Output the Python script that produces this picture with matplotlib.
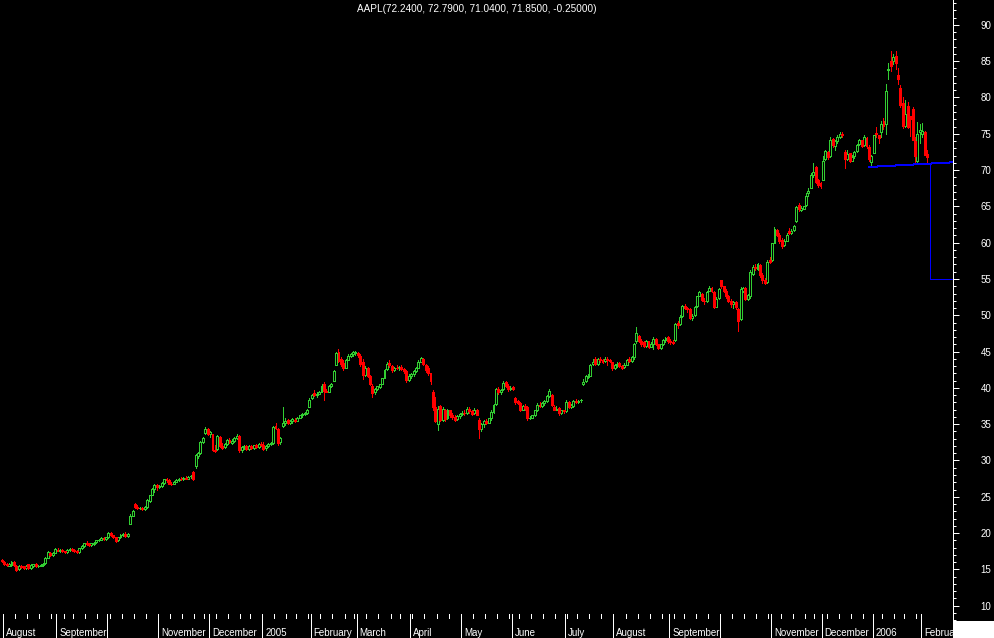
import numpy as np
import pandas as pd
import matplotlib
matplotlib.use("Agg")
import matplotlib.pyplot as plt
import matplotlib.transforms as mtransforms
from matplotlib.ticker import MultipleLocator
from matplotlib.patches import Rectangle

plt.rcParams['font.family'] = ['Liberation Sans', 'DejaVu Sans']

# ---------------------------------------------------------------------------
# daily AAPL candles, 2004-07-30 .. 2006-02-03 (one line per month)
# ---------------------------------------------------------------------------
opens = [
    16.3,
    16.0, 15.8, 15.5, 15.6, 16.0, 15.5, 15.0, 15.5, 15.4, 15.2, 15.7, 15.2, 15.4, 15.8, 15.4, 15.5, 15.6, 15.9, 16.6, 17.3, 17.0, 17.3,
    17.7, 17.6, 17.7, 17.5, 17.4, 17.7, 17.8, 17.7, 17.6, 17.4, 17.9, 18.2, 18.6, 18.5, 18.3, 18.5, 18.8, 19.0, 19.1, 19.3, 19.2,
    19.4, 20.0, 19.7, 19.4, 19.0, 19.4, 19.8, 19.9, 19.6, 21.3, 22.4, 24.0, 23.6, 23.4, 23.5, 23.3, 23.6, 24.4, 25.3, 26.1, 26.6,
    26.4, 26.5, 26.9, 27.4, 27.3, 26.8, 26.8, 27.1, 27.3, 27.5, 27.4, 27.6, 27.5, 27.8, 28.4, 29.2, 30.6, 31.0, 32.6, 33.8, 34.4,
    33.7, 33.6, 31.5, 31.6, 33.3, 32.0, 31.8, 32.3, 32.8, 32.4, 32.7, 33.1, 33.4, 31.4, 31.9, 32.0, 31.6, 32.0, 31.7, 32.1, 31.8, 32.3,
    32.2, 31.7, 32.0, 32.3, 32.4, 34.8, 34.4, 32.5, 34.8, 35.2, 35.6, 35.1, 35.4, 35.6, 35.5, 35.9, 36.2, 36.4, 36.5, 37.4,
    38.6, 39.3, 39.0, 39.2, 39.5, 40.6, 39.6, 39.5, 40.3, 41.0, 43.2, 45.0, 44.0, 43.4, 42.8, 43.9, 44.4, 44.6, 44.8,
    44.8, 44.4, 43.6, 41.8, 42.8, 41.7, 40.3, 39.4, 39.9, 40.1, 40.6, 41.4, 42.6, 43.4, 43.0, 42.4, 42.8, 42.7, 42.9, 42.6, 42.3, 41.1,
    41.6, 41.9, 42.3, 42.8, 43.6, 44.0, 43.2, 42.8, 42.0, 39.5, 37.4, 35.0, 37.5, 35.6, 37.0, 35.8, 36.9, 36.2, 36.0, 35.7, 36.1,
    36.4, 36.6, 36.5, 37.1, 36.8, 36.5, 37.0, 35.6, 34.3, 35.0, 35.4, 35.2, 35.8, 36.7, 37.8, 39.8, 39.4, 39.8, 40.8, 40.3, 39.8,
    40.1, 38.6, 38.2, 37.9, 37.0, 37.5, 37.3, 35.8, 35.9, 36.2, 36.9, 37.7, 37.5, 37.9, 38.2, 38.9, 39.0, 37.4, 37.0, 37.2, 36.6, 36.9,
    36.8, 38.1, 37.4, 37.5, 38.2, 38.1, 38.3, 40.6, 40.9, 41.5, 41.7, 43.3, 44.0, 43.3, 44.0, 43.8, 43.7, 44.0, 43.8, 43.5,
    42.8, 43.1, 43.4, 43.0, 42.9, 43.2, 44.0, 43.7, 44.2, 46.4, 47.2, 46.5, 46.3, 45.8, 46.4, 45.7, 46.1, 46.8, 46.0, 45.5, 46.0, 46.6, 47.0,
    46.5, 46.3, 46.6, 48.9, 48.8, 49.9, 51.3, 51.0, 50.8, 49.6, 50.0, 51.3, 52.7, 53.0, 52.0, 51.9, 53.4, 53.8, 53.2, 51.2, 52.4,
    54.8, 54.0, 53.4, 52.6, 52.0, 51.5, 51.8, 50.8, 49.5, 53.4, 53.8, 52.3, 52.6, 55.7, 56.7, 56.4, 56.9, 55.6, 54.9, 54.6, 57.6,
    57.6, 60.0, 61.8, 61.1, 60.4, 59.7, 60.3, 61.6, 61.4, 61.8, 63.0, 65.2, 64.5, 64.7, 65.2, 66.8, 67.6, 69.3, 70.4, 68.6, 68.2,
    68.7, 71.5, 72.5, 71.9, 74.3, 73.3, 74.0, 74.6, 75.0, 72.5, 71.5, 72.3, 71.3, 71.9, 72.6, 73.6, 74.1, 73.4, 74.4, 73.2, 71.1,
    72.4, 75.1, 74.8, 75.3, 76.7, 76.3, 83.8, 85.0, 85.0, 85.7, 83.1, 81.3, 79.3, 76.1, 78.8, 77.4, 78.4, 74.0, 71.2, 75.3,
    75.0, 75.3, 72.24,
]
highs = [
    16.4,
    16.1, 15.9, 15.9, 16.1, 16.1, 15.6, 15.6, 15.6, 15.5, 15.6, 15.8, 15.7, 15.8, 15.9, 15.6, 15.7, 15.9, 16.7, 17.5, 17.4, 17.4, 17.9,
    17.9, 17.8, 17.8, 17.6, 17.8, 17.9, 17.9, 17.8, 17.7, 18.0, 18.3, 18.7, 18.9, 18.7, 18.7, 18.8, 19.1, 19.2, 19.4, 19.4, 19.5,
    20.1, 20.2, 19.8, 19.5, 19.5, 19.9, 20.0, 20.1, 20.0, 22.6, 23.2, 24.1, 23.8, 23.6, 23.6, 23.7, 24.7, 25.3, 26.2, 26.7, 26.7,
    26.6, 27.0, 27.5, 27.6, 27.4, 27.0, 27.2, 27.4, 27.6, 27.7, 27.7, 27.8, 27.8, 28.0, 28.6, 30.9, 31.2, 32.7, 33.2, 34.6, 34.5,
    34.0, 33.7, 32.2, 33.5, 33.4, 32.4, 32.4, 32.9, 33.1, 32.9, 33.2, 33.6, 33.5, 32.0, 32.2, 32.2, 32.1, 32.1, 32.2, 32.3, 32.4, 32.5,
    32.6, 32.1, 32.4, 32.6, 34.8, 35.1, 34.5, 33.2, 37.3, 35.8, 35.7, 35.6, 35.8, 35.9, 36.0, 36.3, 36.5, 36.7, 37.1, 38.6,
    39.2, 39.7, 39.4, 39.6, 40.5, 40.8, 39.9, 40.4, 40.7, 42.4, 45.0, 45.3, 44.3, 43.9, 44.0, 44.6, 44.8, 45.1, 45.1,
    45.0, 44.6, 44.0, 43.0, 42.9, 41.8, 40.5, 40.0, 40.3, 40.6, 41.4, 42.6, 43.5, 43.8, 43.2, 42.9, 43.2, 43.0, 43.1, 42.8, 42.4, 41.9,
    42.0, 42.4, 42.9, 43.8, 44.3, 44.1, 43.3, 43.0, 42.1, 39.7, 38.8, 37.5, 37.6, 37.3, 37.1, 37.1, 37.0, 36.5, 36.2, 36.3, 36.6,
    36.8, 37.0, 37.3, 37.4, 37.0, 37.2, 37.1, 35.8, 35.2, 35.6, 35.7, 35.9, 36.9, 37.8, 40.0, 40.1, 39.9, 40.9, 41.0, 40.5, 40.3,
    40.3, 38.7, 38.4, 38.0, 37.7, 37.8, 37.5, 36.1, 36.3, 37.0, 37.9, 38.0, 38.1, 38.3, 39.0, 39.9, 39.1, 37.6, 37.5, 37.3, 37.0, 37.0,
    38.3, 38.2, 37.8, 38.4, 38.5, 38.4, 38.5, 41.2, 41.8, 41.9, 43.3, 44.0, 44.2, 44.1, 44.3, 44.0, 44.2, 44.3, 44.0, 43.6,
    43.3, 43.5, 43.6, 43.2, 43.4, 44.0, 44.3, 44.4, 46.2, 48.4, 47.3, 46.7, 46.5, 46.6, 46.5, 46.3, 47.0, 46.9, 46.1, 46.1, 46.8, 47.0, 47.1,
    46.8, 46.6, 48.9, 49.2, 50.0, 51.4, 51.6, 51.2, 51.0, 50.2, 51.3, 52.7, 53.3, 53.1, 52.4, 53.4, 54.0, 53.9, 53.3, 52.5, 53.7,
    54.9, 54.1, 53.6, 52.8, 52.3, 52.0, 51.9, 51.0, 53.9, 53.9, 53.9, 53.0, 56.2, 56.9, 57.0, 57.2, 57.0, 55.8, 55.2, 57.6, 58.0,
    60.0, 62.2, 61.9, 61.3, 60.7, 60.5, 61.3, 62.0, 61.9, 62.5, 65.0, 65.4, 65.0, 65.1, 66.8, 67.5, 69.6, 71.0, 70.5, 68.8, 68.4,
    72.0, 72.8, 72.6, 74.6, 74.4, 74.1, 74.8, 75.3, 75.2, 72.7, 72.8, 72.4, 72.1, 72.6, 73.6, 74.3, 74.2, 74.8, 74.5, 73.4, 72.1,
    74.8, 76.0, 74.9, 76.7, 77.2, 81.9, 84.8, 86.4, 86.0, 86.4, 84.1, 81.7, 80.0, 79.6, 79.4, 77.5, 78.7, 74.5, 76.6, 76.3,
    76.5, 75.4, 72.79,
]
lows = [
    16.0,
    15.6, 15.5, 15.4, 15.5, 15.5, 14.8, 14.9, 15.2, 15.1, 15.1, 15.1, 15.1, 15.3, 15.3, 15.3, 15.4, 15.5, 15.8, 16.5, 16.9, 16.9, 17.2,
    17.5, 17.4, 17.4, 17.3, 17.3, 17.6, 17.6, 17.4, 17.3, 17.3, 17.8, 18.1, 18.4, 18.2, 18.2, 18.4, 18.7, 18.9, 19.0, 19.1, 19.1,
    19.3, 19.6, 19.3, 18.8, 18.9, 19.3, 19.6, 19.5, 19.5, 21.2, 22.3, 23.5, 23.3, 23.3, 23.2, 23.2, 23.5, 24.3, 25.2, 25.6, 25.9,
    26.2, 26.4, 26.8, 27.1, 26.7, 26.6, 26.7, 27.0, 27.2, 27.3, 27.3, 27.4, 27.4, 27.6, 27.3, 29.0, 30.4, 30.9, 32.4, 33.6, 33.5,
    33.2, 31.3, 31.2, 31.5, 31.8, 31.6, 31.7, 32.2, 32.4, 32.3, 32.6, 33.0, 31.2, 31.2, 31.6, 31.5, 31.5, 31.6, 31.6, 31.7, 31.7, 32.0,
    31.5, 31.5, 31.9, 32.1, 32.3, 34.4, 32.2, 32.3, 34.6, 34.9, 35.0, 35.0, 35.2, 35.3, 35.4, 35.8, 36.0, 36.2, 36.4, 37.3,
    38.5, 38.9, 38.8, 39.1, 39.4, 38.4, 39.4, 39.4, 40.1, 40.9, 43.1, 43.5, 43.0, 42.5, 42.7, 43.8, 44.2, 44.4, 44.5,
    44.2, 43.0, 41.2, 41.6, 41.5, 40.4, 38.8, 39.2, 39.7, 40.0, 40.5, 41.3, 42.5, 42.9, 42.2, 42.3, 42.6, 42.4, 42.5, 42.1, 40.8, 41.0,
    41.4, 41.7, 42.2, 42.7, 43.5, 43.1, 42.2, 41.8, 40.6, 37.0, 35.3, 34.2, 35.4, 35.5, 35.5, 35.7, 36.0, 35.7, 35.5, 35.6, 35.9,
    36.2, 36.3, 36.4, 36.6, 36.2, 36.4, 36.2, 33.1, 34.1, 34.6, 35.0, 35.1, 35.6, 36.5, 37.7, 39.2, 39.2, 39.7, 40.1, 39.6, 39.7,
    39.7, 37.8, 37.8, 36.8, 36.9, 37.0, 35.6, 35.7, 35.8, 36.1, 36.8, 37.3, 37.4, 37.6, 38.1, 38.8, 37.5, 36.9, 36.9, 36.3, 36.4, 36.6,
    36.7, 37.2, 37.2, 37.4, 37.9, 37.9, 38.0, 40.4, 40.8, 41.3, 41.6, 43.1, 43.2, 43.2, 43.6, 43.4, 43.6, 43.1, 43.5, 42.5,
    42.6, 42.9, 42.9, 42.6, 42.7, 43.1, 43.5, 43.5, 44.0, 46.2, 46.3, 45.8, 45.6, 45.6, 45.5, 45.6, 45.4, 45.9, 45.3, 45.4, 45.9, 46.3, 46.2,
    46.0, 46.0, 46.5, 48.3, 48.7, 49.8, 50.8, 50.5, 49.5, 49.4, 49.9, 51.2, 52.6, 52.0, 51.6, 51.8, 53.3, 53.2, 51.0, 51.1, 52.3,
    53.8, 53.2, 52.4, 51.8, 51.2, 51.0, 50.8, 47.9, 49.3, 53.2, 52.1, 52.1, 52.4, 55.5, 56.2, 56.2, 55.3, 54.5, 54.3, 54.5, 57.2,
    57.5, 59.9, 60.9, 60.0, 59.3, 59.5, 60.2, 61.2, 61.2, 61.6, 62.9, 64.4, 64.3, 64.6, 65.0, 66.5, 67.5, 69.1, 68.2, 67.7, 67.6,
    68.6, 71.4, 71.5, 71.8, 73.2, 72.8, 73.8, 74.4, 74.6, 70.3, 71.4, 71.1, 71.2, 71.7, 72.5, 73.5, 73.2, 73.3, 73.0, 71.3, 70.4,
    72.3, 74.5, 73.8, 74.6, 75.7, 75.0, 82.6, 83.6, 84.6, 83.9, 81.9, 78.7, 75.8, 76.0, 75.8, 74.7, 74.1, 70.9, 70.9, 73.8,
    74.6, 72.1, 71.04,
]
closes = [
    16.1,
    15.7, 15.6, 15.8, 16.0, 15.6, 14.9, 15.5, 15.3, 15.2, 15.5, 15.2, 15.6, 15.7, 15.4, 15.5, 15.6, 15.8, 16.6, 17.4, 17.0, 17.3, 17.8,
    17.6, 17.7, 17.5, 17.4, 17.7, 17.8, 17.7, 17.5, 17.4, 17.9, 18.2, 18.6, 18.5, 18.3, 18.6, 18.7, 19.0, 19.1, 19.3, 19.2, 19.4,
    20.0, 19.7, 19.4, 18.9, 19.4, 19.8, 19.9, 19.6, 19.9, 22.4, 23.1, 23.6, 23.4, 23.5, 23.3, 23.6, 24.6, 25.2, 26.1, 26.6, 26.3,
    26.5, 26.9, 27.4, 27.3, 26.8, 26.7, 27.1, 27.3, 27.5, 27.4, 27.6, 27.5, 27.7, 27.9, 27.5, 30.8, 31.0, 32.5, 33.1, 34.4, 33.6,
    33.9, 31.5, 31.3, 33.4, 32.0, 31.7, 32.3, 32.8, 32.5, 32.7, 33.1, 33.4, 31.4, 31.9, 32.0, 31.6, 32.0, 31.7, 32.1, 31.8, 32.3, 32.2,
    31.6, 32.0, 32.3, 32.4, 34.6, 34.5, 32.4, 33.1, 35.2, 35.5, 35.1, 35.4, 35.7, 35.4, 35.9, 36.2, 36.4, 36.5, 37.0, 38.4,
    39.0, 39.0, 39.2, 39.5, 40.3, 39.6, 39.5, 40.3, 40.6, 42.3, 44.8, 43.7, 43.3, 42.7, 43.9, 44.4, 44.6, 44.9, 44.9,
    44.5, 43.3, 41.8, 42.8, 41.7, 40.6, 39.3, 39.9, 40.2, 40.5, 41.3, 42.5, 43.3, 43.1, 42.4, 42.8, 42.7, 42.9, 42.6, 42.3, 41.1, 41.7,
    41.9, 42.3, 42.8, 43.6, 44.1, 43.3, 42.4, 42.0, 40.9, 37.3, 35.5, 37.1, 35.6, 37.1, 35.7, 36.9, 36.2, 36.0, 35.6, 36.1, 36.4,
    36.6, 36.5, 37.1, 36.8, 36.4, 37.0, 36.3, 34.3, 35.0, 35.4, 35.2, 35.8, 36.7, 37.6, 39.8, 39.4, 39.7, 40.7, 40.2, 39.8, 40.0,
    39.9, 38.1, 37.9, 37.0, 37.5, 37.2, 35.8, 35.9, 36.2, 36.9, 37.7, 37.5, 37.9, 38.2, 38.9, 39.6, 37.6, 37.0, 37.1, 36.5, 36.9, 36.8,
    38.0, 37.4, 37.6, 38.2, 38.1, 38.2, 38.3, 40.8, 41.6, 41.5, 43.2, 43.6, 43.3, 44.0, 43.8, 43.6, 44.0, 43.8, 43.7, 42.7,
    43.1, 43.3, 43.0, 42.8, 43.2, 43.8, 43.7, 44.2, 46.0, 47.6, 46.5, 46.0, 45.8, 46.4, 45.7, 46.1, 46.8, 46.0, 45.5, 46.0, 46.6, 46.9, 46.4,
    46.3, 46.2, 48.8, 48.7, 49.8, 51.3, 51.0, 50.8, 49.6, 49.9, 51.2, 52.6, 53.2, 52.1, 51.9, 53.2, 53.8, 53.4, 51.1, 52.3, 53.6,
    54.0, 53.4, 52.6, 52.0, 51.5, 51.8, 51.1, 49.2, 53.6, 53.7, 52.3, 52.8, 56.0, 56.7, 56.5, 57.0, 55.6, 54.8, 54.5, 57.4, 57.4,
    59.9, 61.9, 61.1, 60.2, 59.6, 60.3, 61.1, 61.4, 61.6, 62.3, 64.9, 64.6, 64.8, 65.0, 66.5, 67.1, 69.3, 69.7, 68.4, 67.9, 67.8,
    71.3, 72.6, 71.8, 74.1, 73.5, 74.0, 74.6, 75.0, 74.9, 71.5, 72.2, 71.2, 71.8, 72.5, 73.5, 74.1, 73.3, 74.5, 73.3, 71.5, 71.9,
    74.8, 75.0, 74.4, 76.3, 76.1, 80.9, 83.9, 84.3, 85.6, 84.7, 82.5, 79.0, 76.1, 77.7, 76.0, 77.1, 74.2, 72.0, 75.0, 75.5,
    75.4, 72.1, 71.85,
]

first_day, last_day = "2004-07-30", "2006-02-03"
market_holidays = ["2004-09-06", "2004-11-25", "2004-12-24", "2005-01-17", "2005-02-21",
                   "2005-03-25", "2005-05-30", "2005-07-04", "2005-09-05", "2005-11-24",
                   "2005-12-26", "2006-01-02", "2006-01-16"]
month_labels = ["August", "September", "", "November", "December", "2005", "February",
                "March", "April", "May", "June", "July", "August", "September", "",
                "November", "December", "2006", "February"]

title = "AAPL(72.2400, 72.7900, 71.0400, 71.8500, -0.25000)"

# blue support line and target drop
support_x = [358.0, 392.7]
support_y = [70.43, 71.07]
target_x = 383.2
target_top, target_low = 70.95, 55.0

# ---------------------------------------------------------------------------
days = pd.bdate_range(first_day, last_day)
days = days[~days.isin(pd.to_datetime(market_holidays))]
n = min(len(opens), len(highs), len(lows), len(closes), len(days))
o = np.array(opens[:n]); h = np.array(highs[:n])
l = np.array(lows[:n]); c = np.array(closes[:n])
days = days[:n]
x = np.arange(n)

W, H = 994, 638
plot_w, plot_h = 953, 621
px = 0.72  # one pixel in points
fig = plt.figure(figsize=(W / 100, H / 100), dpi=100, facecolor="black")
ax = fig.add_axes([0, (H - plot_h) / H, plot_w / W, plot_h / H])
ax.set_facecolor("black")

green, red, blue = "#32cd32", "#ff0000", "#0000ff"
up = c >= o
ax.vlines(x, l, h, colors=np.where(up, green, red), linewidth=px,
          antialiased=False, zorder=2)
lo = np.minimum(o, c)
ht = np.abs(c - o)
ax.bar(x[up], ht[up], bottom=lo[up], width=0.8, facecolor="black",
       edgecolor=green, linewidth=px, antialiased=False, zorder=3)
ax.bar(x[~up], ht[~up], bottom=lo[~up], width=0.8, facecolor=red,
       edgecolor=red, linewidth=px, antialiased=False, zorder=3)

# blue lines
ax.plot(support_x, support_y, color=blue, lw=px, antialiased=False, zorder=4)
ax.plot([target_x, target_x, support_x[1]], [target_top, target_low, target_low],
        color=blue, lw=px, antialiased=False, zorder=4)

ax.set_xlim(-0.739, 392.7)
ax.set_ylim(7.89, 93.43)

# right price axis
for s in ["left", "top", "bottom"]:
    ax.spines[s].set_visible(False)
ax.spines["right"].set_color("white")
ax.spines["right"].set_linewidth(px)
ax.yaxis.tick_right()
ax.yaxis.set_major_locator(MultipleLocator(5))
ax.yaxis.set_minor_locator(MultipleLocator(1))
ax.tick_params(axis="y", which="major", length=4.3, width=px, colors="white",
               labelsize=7, pad=15.5)
ax.tick_params(axis="y", which="minor", length=2.2, width=px, colors="white")
ax.set_xticks([])

# month separators, week ticks and labels in the bottom strip
xt = ax.get_xaxis_transform()
top_f = (plot_h - 614) / plot_h
low_f = (plot_h - H) / plot_h
wk_f = (plot_h - 618) / plot_h
base_f = (plot_h - 636.5) / plot_h
month_start = [i for i in range(1, n) if days[i].month != days[i - 1].month]
week_start = [i for i in range(1, n) if days[i].weekday() < days[i - 1].weekday()]
for i in week_start:
    ax.plot([i - 0.5, i - 0.5], [top_f, wk_f], transform=xt, color="white",
            lw=px, clip_on=False, antialiased=False)
shift = mtransforms.ScaledTranslation(3 / 100, 0, fig.dpi_scale_trans)
for i, lab in zip(month_start, month_labels):
    ax.plot([i - 0.5, i - 0.5], [top_f, low_f], transform=xt, color="white",
            lw=px, clip_on=False, antialiased=False)
    ax.text(i - 0.5, base_f, lab, transform=xt + shift, color="white",
            fontsize=7, ha="left", va="baseline", clip_on=False)

fig.add_artist(Rectangle((plot_w / W, 0), (W - plot_w) / W, (H - plot_h) / H,
                         transform=fig.transFigure, facecolor="white",
                         edgecolor="none", zorder=10))

fig.text(476.5 / W, 1 - 8.5 / H, title, color="white", fontsize=7.2,
         ha="center", va="center")

fig.savefig("out.png", dpi=100, facecolor="black")
